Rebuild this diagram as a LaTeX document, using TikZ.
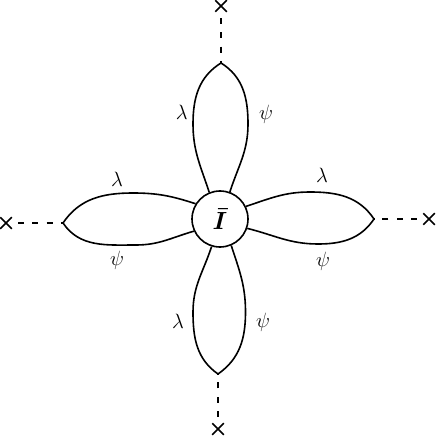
\documentclass[tikz,border=0pt]{standalone}
\usepackage{bm}
\usetikzlibrary{shapes.misc}
\begin{document}
\begin{tikzpicture}[x=1bp,y=1bp,
  line/.style={line width=1.6bp},
  dashline/.style={line width=1.5bp, dash pattern=on 6bp off 8.3bp, dash phase=8bp},
  xmark/.style={cross out, draw, line width=1.5bp, minimum size=10bp, inner sep=0pt},
  lbl/.style={font=\fontsize{22}{26}\selectfont, inner sep=0pt},
  vertex/.style={circle, draw, line width=1.6bp, minimum size=56bp, inner sep=0pt, font=\fontsize{25}{30}\selectfont}]
\useasboundingbox (0,0) rectangle (436,-436);
\node[vertex] (c) at (220,-219) {$\bm{\bar{I}}$};
% petal tips
\coordinate (tT) at (221,-63);
\coordinate (tL) at (63,-223);
\coordinate (tR) at (374,-219);
\coordinate (tB) at (218,-374);
% widest points of the petals
\coordinate (eTl) at (193,-124);
\coordinate (eTr) at (248,-124);
\coordinate (eBl) at (193,-312);
\coordinate (eBr) at (245.5,-312);
\coordinate (eLu) at (133,-193);
\coordinate (eLd) at (136,-245);
\coordinate (eRu) at (310,-192);
\coordinate (eRd) at (318,-244);
% petals
\draw[line] (c.112) to[out=108,in=-90] (eTl) to[out=90,in=212] (tT);
\draw[line] (c.70) to[out=72,in=-90] (eTr) to[out=90,in=-32] (tT);
\draw[line] (c.253) to[out=252,in=90] (eBl) to[out=-90,in=145] (tB);
\draw[line] (c.293) to[out=288,in=90] (eBr) to[out=-90,in=35] (tB);
\draw[line] (c.148) to[out=162,in=0] (eLu) to[out=180,in=56] (tL);
\draw[line] (c.205) to[out=196,in=0] (eLd) to[out=180,in=-56] (tL);
\draw[line] (c.26) to[out=18,in=180] (eRu) to[out=0,in=124] (tR);
\draw[line] (c.-19) to[out=-14,in=180] (eRd) to[out=0,in=236] (tR);
% external legs
\node[xmark] (xT) at (221,-6) {};
\node[xmark] (xL) at (6,-223) {};
\node[xmark] (xR) at (429,-219) {};
\node[xmark] (xB) at (218,-429) {};
\draw[dashline] (xT) -- (tT);
\draw[dashline] (xL) -- (tL);
\draw[dashline] (xR) -- (tR);
\draw[dashline] (xB) -- (tB);
% labels
\node[lbl] (lamT) at (181.7,-112) {$\lambda$};
\node[lbl] (psiT) at (266,-114) {$\psi$};
\node[lbl] (lamL) at (117,-179) {$\lambda$};
\node[lbl] (psiL) at (117,-260) {$\psi$};
\node[lbl] (lamR) at (322,-175) {$\lambda$};
\node[lbl] (psiR) at (323,-261) {$\psi$};
\node[lbl] (lamB) at (178,-321) {$\lambda$};
\node[lbl] (psiB) at (263,-322) {$\psi$};
\end{tikzpicture}
\end{document}
